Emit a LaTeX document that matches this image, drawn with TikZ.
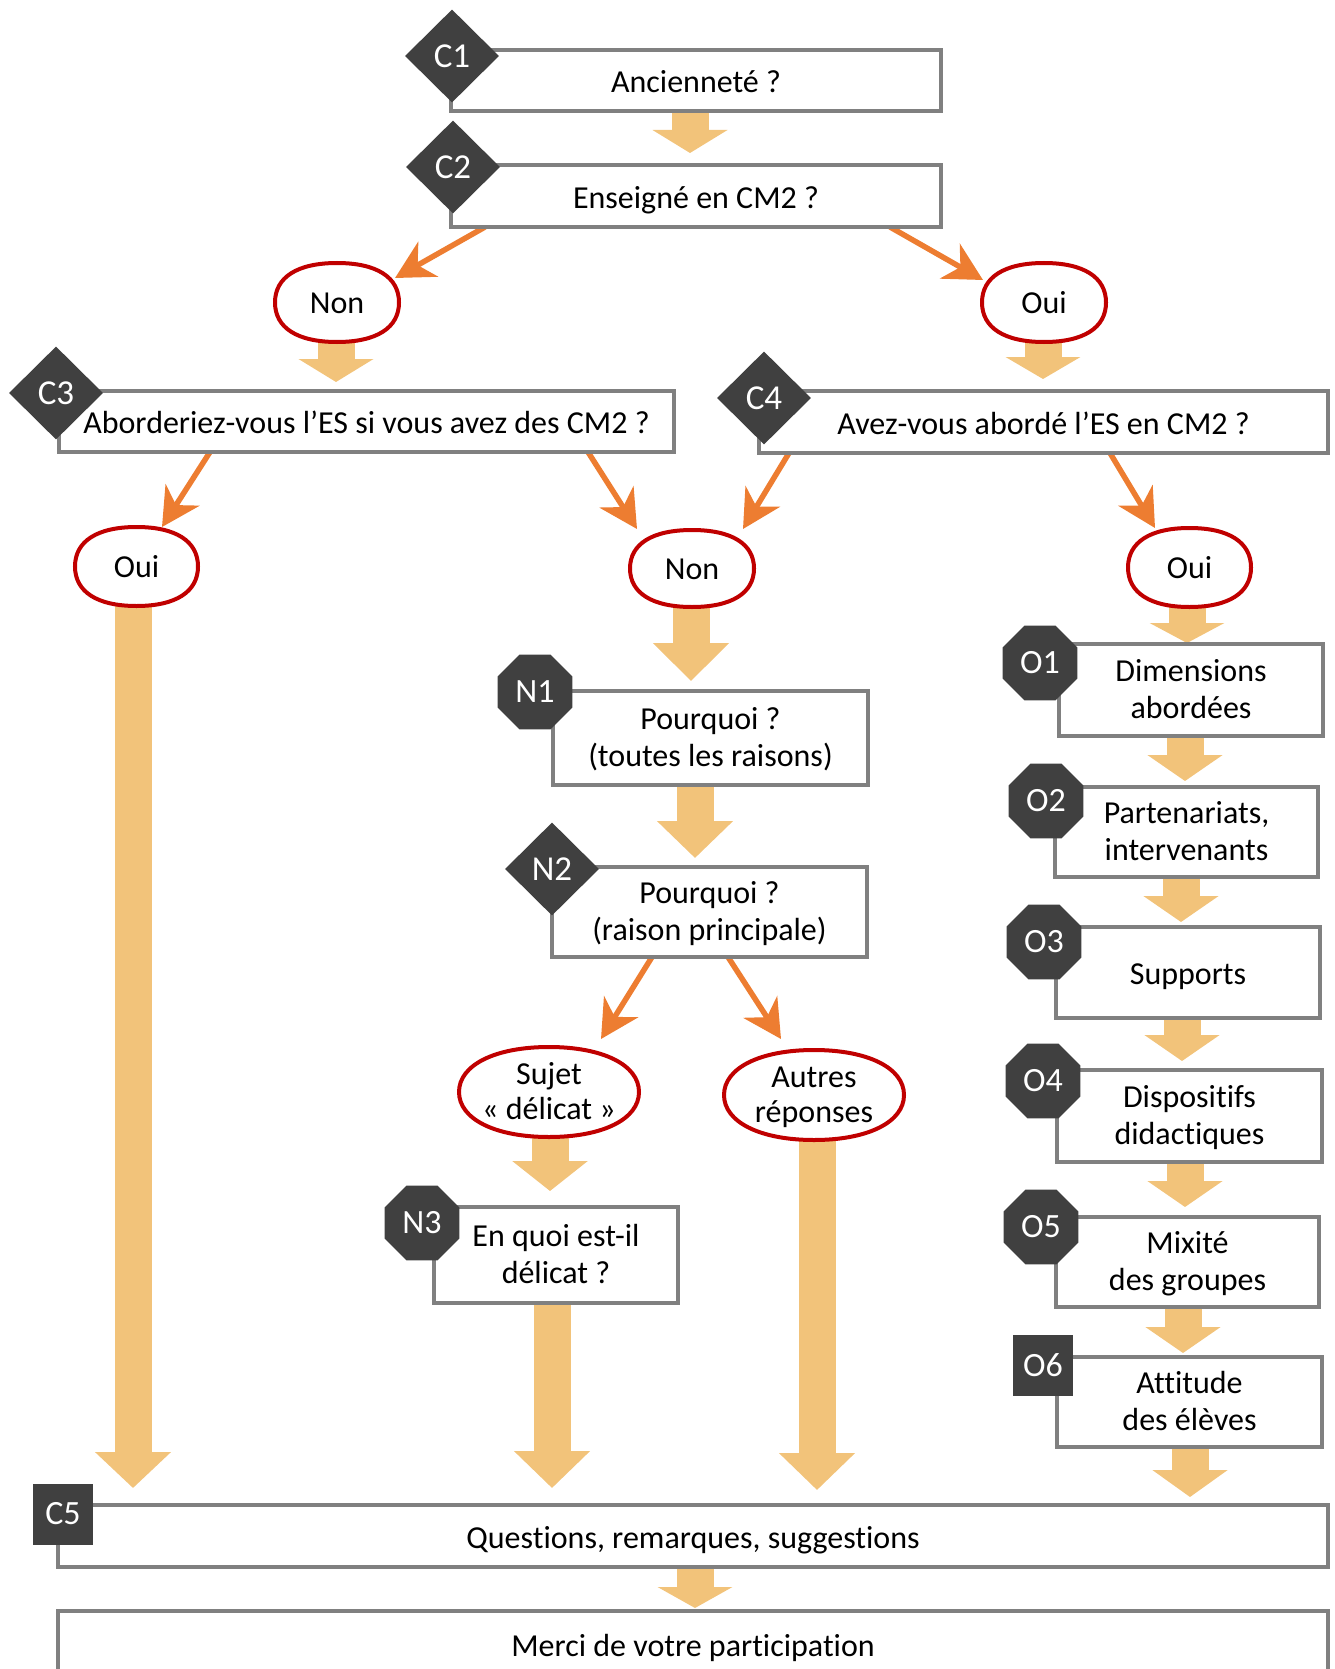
\documentclass[tikz,border=0pt]{standalone}
\usepackage{fontspec}
\setmainfont{Carlito}[Ligatures={NoCommon}]
\usetikzlibrary{shapes.geometric,arrows.meta,calc}
\pgfdeclarelayer{bg}
\pgfdeclarelayer{mid}
\pgfsetlayers{bg,mid,main}
\definecolor{badge}{HTML}{404040}
\definecolor{boxgray}{HTML}{808080}
\definecolor{redline}{HTML}{C00000}
\definecolor{orangeline}{HTML}{ED7D31}
\definecolor{blockfill}{HTML}{F2C37A}
% invisible struts that fix the vertical placement of the text
\newcommand\sstr{\rule[-8.6pt]{0pt}{41.8pt}}% one line in a box
\newcommand\pstr{\rule[-8.6pt]{0pt}{38.8pt}}% one line in a pill
\newcommand\tstr{\rule{0pt}{29.2pt}}% top of two lines
\newcommand\bstr{\rule[-8.6pt]{0pt}{0pt}}% bottom of two lines
\newcommand\pillpath[2]{%
  \draw[draw=redline, line width=4pt, fill=white]
    (#1.north) .. controls ($(#1.north)!#2!(#1.north east)$) and ($(#1.east)!#2!(#1.north east)$) .. (#1.east)
    .. controls ($(#1.east)!#2!(#1.south east)$) and ($(#1.south)!#2!(#1.south east)$) .. (#1.south)
    .. controls ($(#1.south)!#2!(#1.south west)$) and ($(#1.west)!#2!(#1.south west)$) .. (#1.west)
    .. controls ($(#1.west)!#2!(#1.north west)$) and ($(#1.north)!#2!(#1.north west)$) .. (#1.north)
    -- cycle;}
\begin{document}
\begin{tikzpicture}[x=1pt,y=-1pt,
  box/.style 2 args={align=center, text=black, font=\fontsize{32}{37}\selectfont,
    draw=boxgray, line width=4pt, fill=white, inner sep=0pt, outer sep=0pt,
    minimum width=#1pt, minimum height=#2pt},
  pill/.style 2 args={align=center, text=black, font=\fontsize{32}{35}\selectfont,
    inner sep=0pt, outer sep=0pt, minimum width=#1pt, minimum height=#2pt},
  diam/.style={diamond, fill=badge, text=white, minimum width=94pt, minimum height=93pt,
    inner sep=0pt, font=\fontsize{35}{40}\selectfont},
  octo/.style={regular polygon, regular polygon sides=8, minimum size=81pt, fill=badge,
    text=white, inner sep=0pt, font=\fontsize{34}{40}\selectfont},
  sqbadge/.style={rectangle, fill=badge, text=white, minimum width=60pt, minimum height=61pt,
    inner sep=0pt, font=\fontsize{34}{40}\selectfont},
  linearrow/.style={draw=orangeline, line width=5.5pt,
    -{Stealth[length=38pt, width=40pt, inset=12pt]}},
  blk/.style={draw=blockfill, line width=37pt, -{Triangle[length=#1pt, width=74pt]}}
]
\useasboundingbox (0,0) rectangle (1334,1669);
\clip (0,0) rectangle (1334,1669);

% boxes
\node[box={490}{61}] (c1box) at (696,80.5) {\sstr Ancienneté ?};
\node[box={490}{62}] (c2box) at (696,196) {\sstr Enseigné en CM2 ?};
\node[box={615}{61}] (c3box) at (366.5,421.5) {\sstr Aborderiez-vous l’ES si vous avez des CM2 ?};
\node[box={569}{62}] (c4box) at (1043.5,422) {\sstr Avez-vous abordé l’ES en CM2 ?};
\node[box={315}{94}] (n1box) at (710.5,738) {\tstr Pourquoi ?\\(toutes les raisons)\bstr};
\node[box={315}{90}] (n2box) at (709.5,912) {\tstr Pourquoi ?\\(raison principale)\bstr};
\node[box={244}{96}] (n3box) at (556,1255) {\tstr En quoi est-il\\délicat ?\bstr};
\node[box={264}{92}] (o1box) at (1191,690) {\tstr Dimensions\\abordées\bstr};
\node[box={263}{90}] (o2box) at (1186.5,832) {\tstr Partenariats,\\intervenants\bstr};
\node[box={264}{91}] (o3box) at (1188,972.5) {\sstr Supports};
\node[box={265}{92}] (o4box) at (1189.5,1116) {\tstr Dispositifs\\didactiques\bstr};
\node[box={263}{90}] (o5box) at (1187.5,1262) {\tstr Mixité\\des groupes\bstr};
\node[box={265}{90}] (o6box) at (1189.5,1402) {\tstr Attitude\\des élèves\bstr};
\node[box={1270}{62}] (c5box) at (693,1536) {\sstr Questions, remarques, suggestions};
\node[box={1270}{66}] (mercibox) at (693,1644) {\sstr Merci de votre participation};

% badges
\node[diam] (c1) at (452,56) {C1};
\node[diam] (c2) at (453,167) {C2};
\node[diam] (c3) at (56,393) {C3};
\node[diam] (c4) at (764,398) {C4};
\node[diam] (n2) at (552,869) {N2};
\node[octo] (n1) at (535,692) {N1};
\node[octo] (n3) at (422,1223) {N3};
\node[octo] (o1) at (1040,663) {O1};
\node[octo] (o2) at (1046,801) {O2};
\node[octo] (o3) at (1044,942) {O3};
\node[octo] (o4) at (1043,1081) {O4};
\node[octo] (o5) at (1041,1227) {O5};
\node[sqbadge] (o6) at (1043,1365) {O6};
\node[sqbadge] (c5) at (63,1514) {C5};

% answers
\node[pill={124}{79}] (non1) at (337,302.5) {\pstr Non};
\node[pill={124}{79}] (oui1) at (1044,302.5) {\pstr Oui};
\node[pill={123}{79}] (oui2) at (136.5,566.5) {\pstr Oui};
\node[pill={124}{77}] (non2) at (692,568.5) {\pstr Non};
\node[pill={123}{79}] (oui3) at (1189.5,567.5) {\pstr Oui};
\node[pill={180}{90}] (sujet) at (549,1092) {\tstr Sujet\\«~délicat~»\bstr};
\node[pill={180}{90}] (autres) at (814,1095) {\tstr Autres\\réponses\bstr};

\begin{pgfonlayer}{mid}
\pillpath{non1}{0.64}
\pillpath{oui1}{0.64}
\pillpath{oui2}{0.64}
\pillpath{non2}{0.64}
\pillpath{oui3}{0.64}
\pillpath{sujet}{0.6}
\pillpath{autres}{0.6}
\end{pgfonlayer}

% tips of the block arrows
\coordinate (tA1) at (690,153);
\coordinate (tA2) at (336,382);
\coordinate (tA3) at (1043,379);
\coordinate (tA4) at (133,1488);
\coordinate (tA5) at (691,681);
\coordinate (tA6) at (695,858);
\coordinate (tA7) at (550,1191);
\coordinate (tA8) at (552,1488);
\coordinate (tA9) at (817,1490);
\coordinate (tO1) at (1187,643);
\coordinate (tO2) at (1185,781);
\coordinate (tO3) at (1181,922);
\coordinate (tO4) at (1182,1061);
\coordinate (tO5) at (1185,1207);
\coordinate (tO6) at (1183,1353);
\coordinate (tO7) at (1190,1497);
\coordinate (tC5) at (695,1608);

\begin{pgfonlayer}{bg}
\draw[blk=23] (tA1 |- c1box.south) -- (tA1);
\draw[blk=23] (tA2 |- non1.south) -- (tA2);
\draw[blk=22] (tA3 |- oui1.south) -- (tA3);
\draw[blk=36] (tA4 |- oui2.south) -- (tA4);
\draw[blk=38] (tA5 |- non2.south) -- (tA5);
\draw[blk=37] (tA6 |- n1box.south) -- (tA6);
\draw[blk=30] (tA7 |- sujet.south) -- (tA7);
\draw[blk=37] (tA8 |- n3box.south) -- (tA8);
\draw[blk=37] (tA9 |- autres.south) -- (tA9);
\draw[blk=20] (tO1 |- oui3.south) -- (tO1);
\draw[blk=26] (tO2 |- o1box.south) -- (tO2);
\draw[blk=26] (tO3 |- o2box.south) -- (tO3);
\draw[blk=26] (tO4 |- o3box.south) -- (tO4);
\draw[blk=26] (tO5 |- o4box.south) -- (tO5);
\draw[blk=26] (tO6 |- o5box.south) -- (tO6);
\draw[blk=27] (tO7 |- o6box.south) -- (tO7);
\draw[blk=21] (tC5 |- c5box.south) -- (tC5);

\draw[linearrow] ([xshift=34pt]c2box.south west) -- ([shift={(-4,15)}]non1.north east);
\draw[linearrow] ([xshift=-51pt]c2box.south east) -- ([shift={(1,17)}]oui1.north west);
\draw[linearrow] ([xshift=151pt]c3box.south west) -- ([shift={(25.5,0)}]oui2.north);
\draw[linearrow] ([xshift=-86pt]c3box.south east) -- ([shift={(7,-1)}]non2.north west);
\draw[linearrow] ([xshift=30pt]c4box.south west) -- ([shift={(-11,-1)}]non2.north east);
\draw[linearrow] ([xshift=-218pt]c4box.south east) -- ([shift={(-34.5,0)}]oui3.north);
\draw[linearrow] ([xshift=100pt]n2box.south west) -- ([shift={(-38,-8)}]sujet.north east);
\draw[linearrow] ([xshift=176pt]n2box.south west) -- ([shift={(57,-11)}]autres.north west);
\end{pgfonlayer}
\end{tikzpicture}
\end{document}
